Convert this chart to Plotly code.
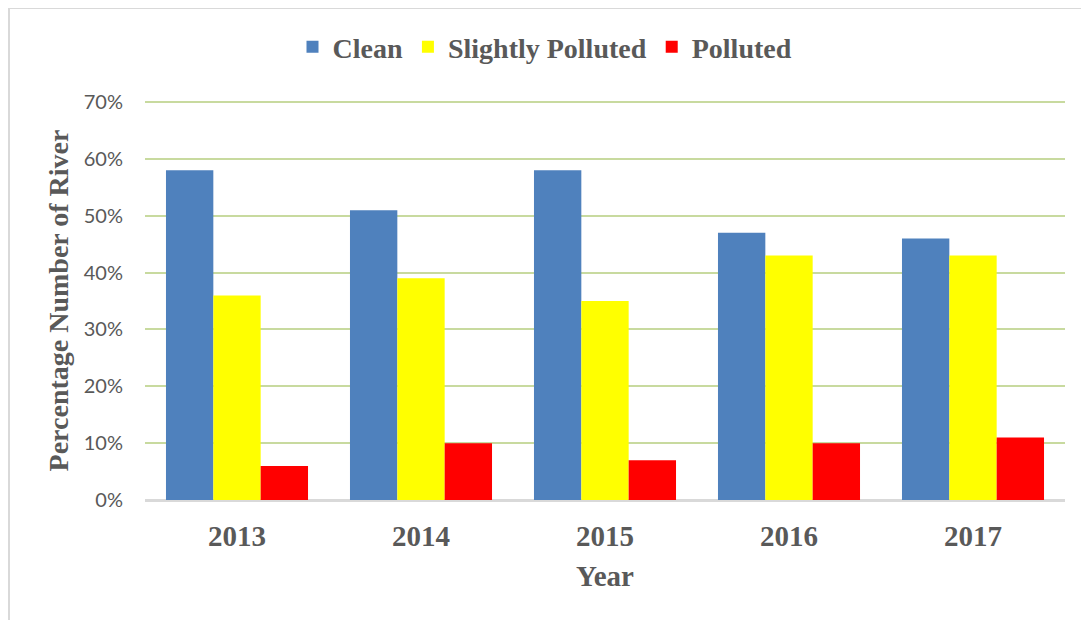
import plotly.graph_objects as go

years = ["2013", "2014", "2015", "2016", "2017"]
clean = [58, 51, 58, 47, 46]
slightly = [36, 39, 35, 43, 43]
polluted = [6, 10, 7, 10, 11]
y_ticks = [0, 10, 20, 30, 40, 50, 60, 70]

serif = "Liberation Serif"
gray = "#595959"

fig = go.Figure()
for name, vals, col in [("Clean", clean, "#4f81bd"),
                        ("Slightly Polluted", slightly, "#ffff00"),
                        ("Polluted", polluted, "#ff0000")]:
    fig.add_trace(go.Bar(x=years, y=vals, name=f"<b>{name}</b>",
                         marker=dict(color=col, line=dict(width=0))))

# page body has an 8px margin, so the figure is shifted by 8px
W, H = 1081, 612
L, R, T, B = 137, 24, 93, 120
pw, ph = W - L - R, H - T - B

fig.update_layout(
    width=W, height=H,
    margin=dict(l=L, r=R, t=T, b=B, autoexpand=False),
    paper_bgcolor="white", plot_bgcolor="white",
    barmode="group", bargap=0.228, bargroupgap=0,
    legend=dict(orientation="h", x=(537 - L) / pw, xanchor="center",
                y=1 + (T - 39) / ph, yanchor="middle",
                font=dict(family=serif, size=28, color=gray),
                traceorder="normal"),
    xaxis=dict(tickfont=dict(family=serif, size=29, color=gray),
               showgrid=False, showline=True, linecolor="#d9d9d9", linewidth=2,
               ticks="", ticklabelstandoff=9,
               title=dict(text="<b>Year</b>", font=dict(family=serif, size=29, color=gray),
                          standoff=15)),
    yaxis=dict(range=[0, 70.2], tickvals=y_ticks,
               ticktext=[f"{v}%" for v in y_ticks],
               tickfont=dict(family="Lato", size=20, color=gray),
               showgrid=True, gridcolor="#c8da9f", gridwidth=2,
               zeroline=True, zerolinecolor="#d9d9d9", zerolinewidth=2,
               ticks="", ticklabelstandoff=21,
               title=dict(text="<b>Percentage Number of River</b>",
                          font=dict(family=serif, size=28, color=gray), standoff=6)),
)
fig.update_xaxes(tickprefix="<b>", ticksuffix="</b>")

# outer chart border
fig.add_shape(type="rect", xref="paper", yref="paper",
              x0=(1 - L) / pw, x1=(W + 20 - L) / pw,
              y0=-(B + 20) / ph, y1=1 + (T - 0) / ph,
              line=dict(color="#d9d9d9", width=2), fillcolor="rgba(0,0,0,0)", layer="below")

fig.write_html("out.html")
